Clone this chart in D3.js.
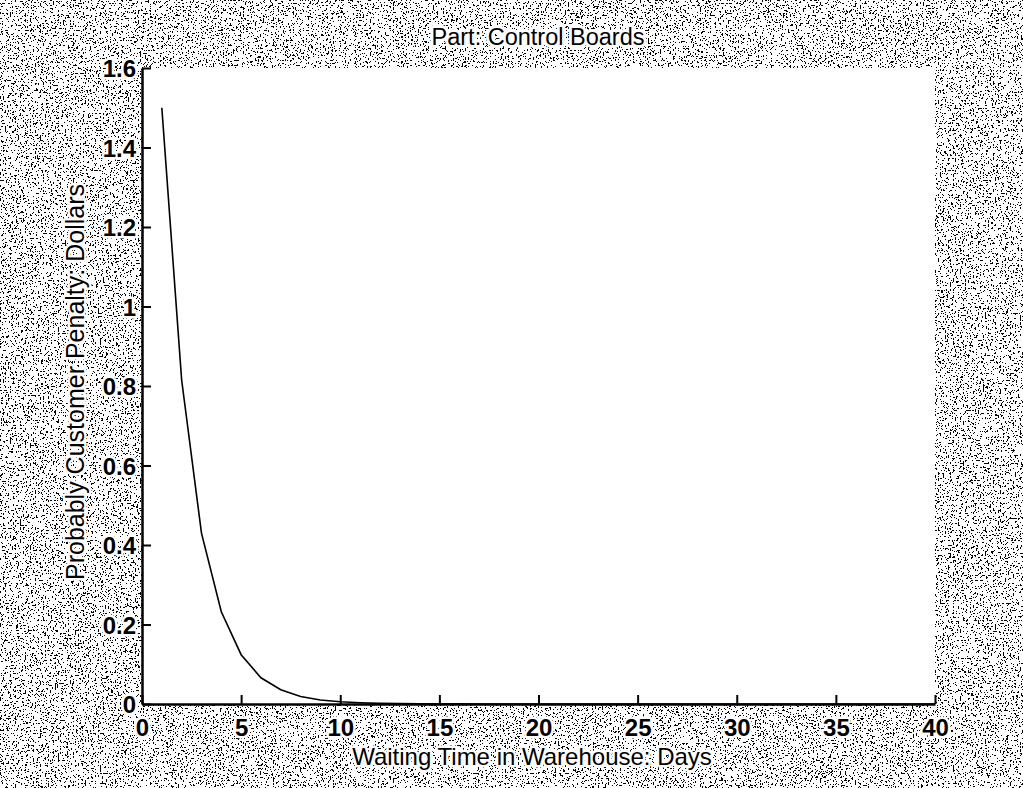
<!DOCTYPE html>
<html>
<head>
<meta charset="utf-8">
<script src="https://cdn.jsdelivr.net/npm/d3@7"></script>
<style>
  body { margin: 0; background: #fff; }
  text { font-family: "Liberation Sans", Arial, sans-serif; fill: #000; }
  .halo { paint-order: stroke; stroke: #fff; stroke-width: 5px; stroke-linejoin: round; }
</style>
</head>
<body>
<div id="chart"></div>
<script>
var W = 1023, H = 788;
var margin = {top: 68, right: 88, bottom: 84, left: 142},
	width = W - margin.left - margin.right,
	height = H - margin.top - margin.bottom;

// waiting time in days
var days = [1, 2, 3, 4, 5, 6, 7, 8, 9, 10, 11, 12, 13, 14, 15, 16, 17, 18, 19, 20,
	21, 22, 23, 24, 25, 26, 27, 28, 29, 30, 31, 32, 33, 34, 35, 36, 37, 38, 39, 40];
// probable customer penalty, dollars
var penalty = [1.50, 0.815, 0.43, 0.232, 0.124, 0.066, 0.036, 0.019, 0.010, 0.0055,
	0.003, 0.0016, 0.0009, 0.0005, 0.0003, 0.0002, 0.0001, 0.0001, 0, 0,
	0, 0, 0, 0, 0, 0, 0, 0, 0, 0, 0, 0, 0, 0, 0, 0, 0, 0, 0, 0];
var xTicks = [0, 5, 10, 15, 20, 25, 30, 35, 40];
var yTicks = [0, 0.2, 0.4, 0.6, 0.8, 1, 1.2, 1.4, 1.6];

var x = d3.scaleLinear().domain([0, 40]).range([0, width]);
var y = d3.scaleLinear().domain([0, 1.6]).range([height, 0]);

var svg = d3.select("#chart").append("svg")
	.attr("width", W)
	.attr("height", H);

// scanned paper texture
var filter = svg.append("defs").append("filter")
	.attr("id", "speckle")
	.attr("x", 0).attr("y", 0).attr("width", "100%").attr("height", "100%");
filter.append("feTurbulence")
	.attr("type", "fractalNoise")
	.attr("baseFrequency", 0.6)
	.attr("numOctaves", 3)
	.attr("seed", 7);
filter.append("feColorMatrix").attr("type", "saturate").attr("values", 0);
var ct = filter.append("feComponentTransfer");
["feFuncR", "feFuncG", "feFuncB"].forEach(function(f) {
	ct.append(f).attr("type", "discrete").attr("tableValues", "0 0 0 0 0 0 0 0 0 1 1 1 1 1 1 1 1 1 1 1 1 1");
});
ct.append("feFuncA").attr("type", "linear").attr("slope", 0).attr("intercept", 1);

svg.append("rect")
	.attr("width", W).attr("height", H)
	.attr("filter", "url(#speckle)");

var g = svg.append("g")
	.attr("transform", "translate(" + margin.left + "," + margin.top + ")");

g.append("rect")
	.attr("width", width)
	.attr("height", height)
	.attr("fill", "#fff");

var xAxis = g.append("g")
	.attr("transform", "translate(0," + height + ")")
	.call(d3.axisBottom(x).tickValues(xTicks).tickFormat(d3.format("d")).tickSizeInner(-9).tickSizeOuter(0).tickPadding(15));

var yAxis = g.append("g")
	.call(d3.axisLeft(y).tickValues(yTicks).tickFormat(function(d) { return d; }).tickSizeInner(-9).tickSizeOuter(0).tickPadding(6));

[xAxis, yAxis].forEach(function(a) {
	a.select(".domain").attr("stroke", "#000").attr("stroke-width", 2.5);
	a.selectAll(".tick line").attr("stroke", "#000").attr("stroke-width", 2);
	a.selectAll(".tick text")
		.attr("class", "halo")
		.style("font-size", "24px")
		.style("font-weight", "bold")
		.style("font-family", "'Liberation Sans', Arial, sans-serif")
		.attr("fill", "#000");
});
xAxis.selectAll(".tick text").attr("dy", "0.71em");
yAxis.selectAll(".tick text").attr("dy", "0.36em");

var line = d3.line()
	.x(function(d, i) { return x(days[i]); })
	.y(function(d) { return y(d); });

g.append("path")
	.datum(penalty)
	.attr("fill", "none")
	.attr("stroke", "#000")
	.attr("stroke-width", 1.6)
	.attr("d", line);

svg.append("text")
	.attr("class", "halo")
	.attr("x", 538)
	.attr("y", 45)
	.attr("text-anchor", "middle")
	.style("font-size", "23.5px")
	.style("stroke-width", "6px")
	.text("Part: Control Boards");

svg.append("text")
	.attr("class", "halo")
	.attr("x", 532)
	.attr("y", 765)
	.attr("text-anchor", "middle")
	.style("font-size", "24px")
	.text("Waiting Time in Warehouse: Days");

svg.append("text")
	.attr("class", "halo")
	.attr("transform", "translate(84,382) rotate(-90)")
	.attr("text-anchor", "middle")
	.style("font-size", "25px")
	.text("Probably Customer Penalty: Dollars");
</script>
</body>
</html>
